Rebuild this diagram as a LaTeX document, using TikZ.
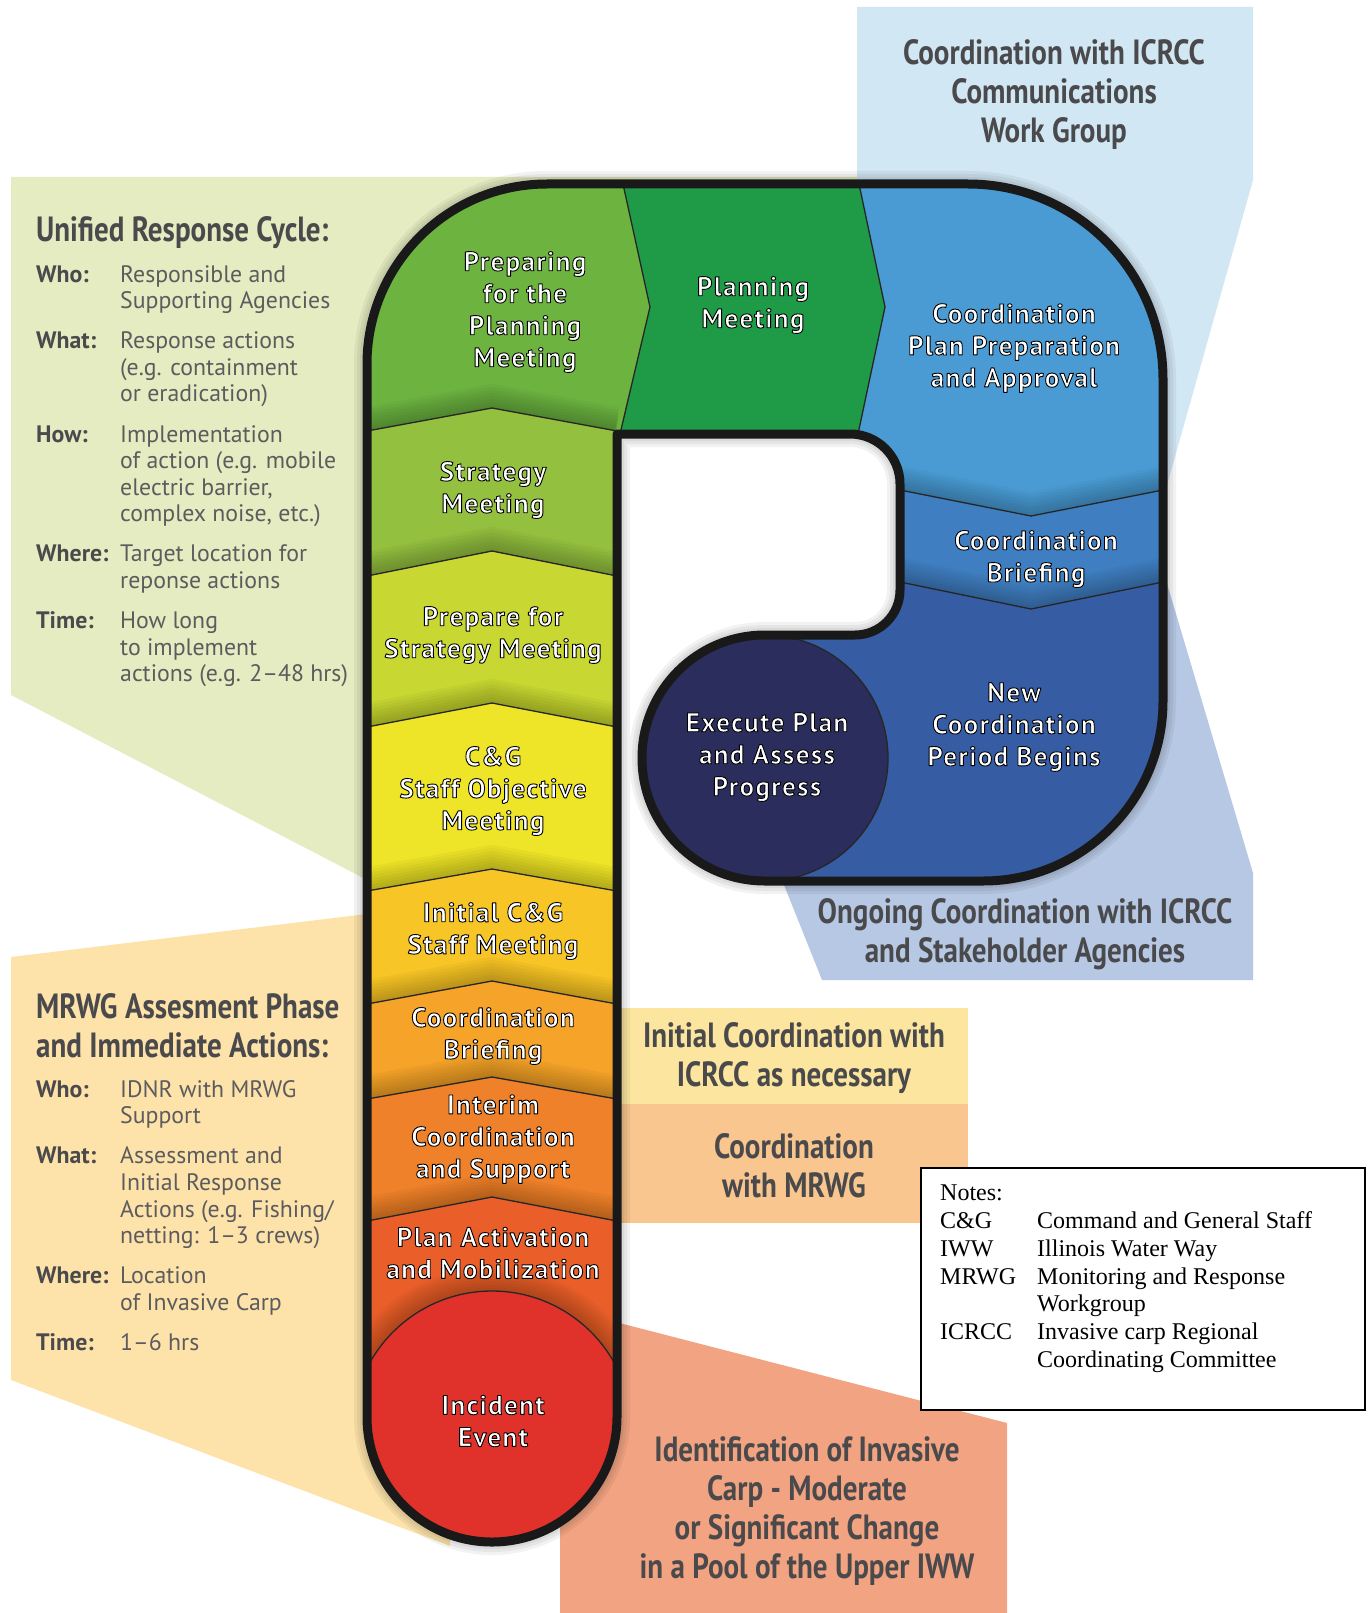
\documentclass[tikz,border=0pt]{standalone}
\usepackage{fontspec}
\setmainfont{Liberation Serif}
\newfontfamily\lblfont[LetterSpace=5]{PT Sans}
\newfontfamily\headfont[FakeStretch=0.83]{PT Sans}
\newfontfamily\bodyfont{PT Sans}
\definecolor{bgGreen}{HTML}{E5ECC1}
\definecolor{bgBlue}{HTML}{D2E7F4}
\definecolor{bgPeri}{HTML}{B6C8E4}
\definecolor{bgCream}{HTML}{FDE3AA}
\definecolor{bgYel}{HTML}{FCE69F}
\definecolor{bgOra}{HTML}{F8C68E}
\definecolor{bgSal}{HTML}{F1A382}
\definecolor{cPrep}{HTML}{6CB33F}
\definecolor{cPlan}{HTML}{1F9B48}
\definecolor{cCPP}{HTML}{4A9BD3}
\definecolor{cCBb}{HTML}{3F7EC1}
\definecolor{cNew}{HTML}{365CA4}
\definecolor{cExe}{HTML}{2B2E5C}
\definecolor{cStr}{HTML}{93C03E}
\definecolor{cPfs}{HTML}{C8D731}
\definecolor{cCG}{HTML}{EEE428}
\definecolor{cIni}{HTML}{F8C526}
\definecolor{cCBo}{HTML}{F5A329}
\definecolor{cInt}{HTML}{EF812A}
\definecolor{cAct}{HTML}{EA5E2A}
\definecolor{cInc}{HTML}{E0322B}
\definecolor{hd}{HTML}{4A4A4C}
\definecolor{bd}{HTML}{5C5C5E}
\newcommand\olon{\special{pdf:literal direct 0 G 1 j 0.9 w 2 Tr}}
\newcommand\lab[1]{\makebox[84pt][l]{\color{hd}\bfseries #1}}
\newcommand\ind{\hspace*{84pt}}
\newcommand\abbr[1]{\makebox[97pt][l]{#1}}
\newcommand\shadowline[1]{%
  \foreach \o/\w in {1.5/3,3/6,4.5/9,6/12,7.5/15,9/18,10.5/21,12/24}{\draw[black, opacity=0.032, line width=\w pt] [shift={(0,-\o)}] #1;}}
\tikzset{
  lbl/.style={font=\lblfont\bfseries\fontsize{27}{32}\selectfont, text=white, align=center, inner sep=0pt},
  head/.style={font=\headfont\bfseries\fontsize{35}{39}\selectfont, text=hd, align=center, inner sep=0pt},
  body/.style={font=\bodyfont\fontsize{23.8}{26.6}\selectfont, text=bd, align=left, inner sep=0pt},
  seg/.style={line width=1.3pt, draw=black!85},
  outline/.style={line width=9pt, draw=black!90, line join=round},
}
\begin{document}
\begin{tikzpicture}[x=1pt,y=-1pt]
\useasboundingbox (0,0) rectangle (1369,1613);
\fill[white] (0,0) rectangle (1369,1613);
% background panels
\fill[bgGreen] (11,177) -- (857,177) -- (857,300) -- (450,300) -- (450,923) -- (11,695) -- cycle;
\fill[bgBlue] (857,7) -- (1253,7) -- (1253,180) -- (1160,510) -- (1100,510) -- (1100,300) -- (857,300) -- cycle;
\fill[bgPeri] (1160,560) -- (1253,873) -- (1253,980) -- (822,980) -- (782,880) -- (782,660) -- (1100,660) -- (1100,560) -- cycle;
\fill[bgCream] (11,957) -- (367,914) -- (450,904) -- (450,1546) -- (11,1380) -- cycle;
\fill[bgYel] (600,1008) rectangle (968,1104);
\fill[bgOra] (600,1104) rectangle (968,1223);
\fill[bgSal] (600,1318) -- (1007,1423) -- (1007,1613) -- (560,1613) -- (560,1318) -- cycle;
% soft drop shadow around the P
\foreach \w in {14,20,26}{\draw[black, opacity=0.05, line width=\w pt, line join=round] (367,364) arc[start angle=180,end angle=270,radius=180] -- (968,184) arc[start angle=270,end angle=360,radius=195] -- (1163,701) arc[start angle=0,end angle=90,radius=180] -- (765,881) arc[start angle=90,end angle=270,radius=123] -- (855,635) arc[start angle=90,end angle=0,radius=45] -- (900,484) arc[start angle=360,end angle=270,radius=50] -- (617,434) -- (617,1417) arc[start angle=0,end angle=180,radius=125] -- cycle;}
% P shape fills
\begin{scope}
\clip (367,364) arc[start angle=180,end angle=270,radius=180] -- (968,184) arc[start angle=270,end angle=360,radius=195] -- (1163,701) arc[start angle=0,end angle=90,radius=180] -- (765,881) arc[start angle=90,end angle=270,radius=123] -- (855,635) arc[start angle=90,end angle=0,radius=45] -- (900,484) arc[start angle=360,end angle=270,radius=50] -- (617,434) -- (617,1417) arc[start angle=0,end angle=180,radius=125] -- cycle;
\fill[cPrep] (340,100) -- (623,100) -- (623,184) -- (650,307) -- (620,434) -- (617,431) -- (492,408) -- (367,431) -- (340,431) -- cycle;
\fill[cPlan] (623,100) -- (859,100) -- (859,184) -- (885,307) -- (858,434) -- (858,445) -- (620,445) -- (620,434) -- (650,307) -- (623,184) -- cycle;
\fill[cCPP] (859,100) -- (1260,100) -- (1260,490) -- (1163,490) -- (1031,516) -- (900,490) -- (858,490) -- (858,434) -- (885,307) -- (859,184) -- cycle;
\fill[cCBb] (890,490) -- (900,490) -- (1031,516) -- (1163,490) -- (1260,490) -- (1260,582) -- (1163,582) -- (1031,609) -- (900,582) -- (890,582) -- cycle;
\fill[cNew] (640,582) -- (900,582) -- (1031,609) -- (1163,582) -- (1260,582) -- (1260,900) -- (640,900) -- cycle;
\fill[cStr] (340,431) -- (367,431) -- (492,408) -- (617,431) -- (640,431) -- (640,576) -- (617,576) -- (492,551) -- (367,576) -- (340,576) -- cycle;
\fill[cPfs] (340,576) -- (367,576) -- (492,551) -- (617,576) -- (640,576) -- (640,727) -- (617,727) -- (492,703) -- (367,727) -- (340,727) -- cycle;
\fill[cCG] (340,727) -- (367,727) -- (492,703) -- (617,727) -- (640,727) -- (640,891) -- (617,891) -- (492,869) -- (367,891) -- (340,891) -- cycle;
\fill[cIni] (340,891) -- (367,891) -- (492,869) -- (617,891) -- (640,891) -- (640,1004) -- (617,1004) -- (492,981) -- (367,1004) -- (340,1004) -- cycle;
\fill[cCBo] (340,1004) -- (367,1004) -- (492,981) -- (617,1004) -- (640,1004) -- (640,1099) -- (617,1099) -- (492,1077) -- (367,1099) -- (340,1099) -- cycle;
\fill[cInt] (340,1099) -- (367,1099) -- (492,1077) -- (617,1099) -- (640,1099) -- (640,1221) -- (617,1221) -- (492,1197) -- (367,1221) -- (340,1221) -- cycle;
\fill[cAct] (340,1221) -- (367,1221) -- (492,1197) -- (617,1221) -- (640,1221) -- (640,1600) -- (340,1600) -- cycle;
% soft shadows above each boundary
\shadowline{(367,431) -- (492,408) -- (617,431)}
\shadowline{(367,576) -- (492,551) -- (617,576)}
\shadowline{(367,727) -- (492,703) -- (617,727)}
\shadowline{(367,891) -- (492,869) -- (617,891)}
\shadowline{(367,1004) -- (492,981) -- (617,1004)}
\shadowline{(367,1099) -- (492,1077) -- (617,1099)}
\shadowline{(367,1221) -- (492,1197) -- (617,1221)}
\shadowline{(900,490) -- (1031,516) -- (1163,490)}
\shadowline{(900,582) -- (1031,609) -- (1163,582)}
\foreach \o/\w in {1.5/3,3/6,4.5/9,6/12,7.5/15,9/18,10.5/21,12/24}{\draw[black, opacity=0.032, line width=\w pt] (492,1431) circle[radius=140+\o];}
\fill[cExe] (765,758) circle[radius=123];
\fill[cInc] (492,1431) circle[radius=140];
% thin segment boundaries
\draw[seg] (623,184) -- (650,307) -- (620,434);
\draw[seg] (859,184) -- (885,307) -- (858,434);
\draw[seg] (900,490) -- (1031,516) -- (1163,490);
\draw[seg] (900,582) -- (1031,609) -- (1163,582);
\draw[seg] (765,758) circle[radius=123];
\draw[seg] (367,431) -- (492,408) -- (617,431);
\draw[seg] (367,576) -- (492,551) -- (617,576);
\draw[seg] (367,727) -- (492,703) -- (617,727);
\draw[seg] (367,891) -- (492,869) -- (617,891);
\draw[seg] (367,1004) -- (492,981) -- (617,1004);
\draw[seg] (367,1099) -- (492,1077) -- (617,1099);
\draw[seg] (367,1221) -- (492,1197) -- (617,1221);
\draw[seg] (492,1431) circle[radius=140];
\end{scope}
\draw[outline] (367,364) arc[start angle=180,end angle=270,radius=180] -- (968,184) arc[start angle=270,end angle=360,radius=195] -- (1163,701) arc[start angle=0,end angle=90,radius=180] -- (765,881) arc[start angle=90,end angle=270,radius=123] -- (855,635) arc[start angle=90,end angle=0,radius=45] -- (900,484) arc[start angle=360,end angle=270,radius=50] -- (617,434) -- (617,1417) arc[start angle=0,end angle=180,radius=125] -- cycle;
% labels inside the P
\node[lbl] (prep) at (525,312) {\olon Preparing\\for the\\Planning\\Meeting};
\node[lbl] (plan) at (753,305) {\olon Planning\\Meeting};
\node[lbl] (cpp) at (1014,348) {\olon Coordination\\Plan Preparation\\and Approval};
\node[lbl] (strat) at (493,490) {\olon Strategy\\Meeting};
\node[lbl] (pfs) at (493,635) {\olon Prepare for\\Strategy Meeting};
\node[lbl] (cgso) at (493,791) {\olon C\&G\\Staff Objective\\Meeting};
\node[lbl] (icg) at (493,931) {\olon Initial C\&G\\Staff Meeting};
\node[lbl] (cbo) at (493,1036) {\olon Coordination\\Briefing};
\node[lbl] (interim) at (493,1139) {\olon Interim\\Coordination\\and Support};
\node[lbl] (pam) at (493,1253) {\olon Plan Activation\\and Mobilization};
\node[lbl] (inc) at (493,1421) {\olon Incident\\Event};
\node[lbl] (cbb) at (1036,559) {\olon Coordination\\Briefing};
\node[lbl] (exe) at (767,757) {\olon Execute Plan\\and Assess\\Progress};
\node[lbl] (ncp) at (1014,727) {\olon New\\Coordination\\Period Begins};
% headings
\node[head] (cwg) at (1054,95) {Coordination with ICRCC\\Communications\\Work Group};
\node[head] (ongo) at (1025,934) {Ongoing Coordination with ICRCC\\and Stakeholder Agencies};
\node[head] (initc) at (794,1058) {Initial Coordination with\\ICRCC as necessary};
\node[head] (cmrwg) at (794,1166) {Coordination\\with MRWG};
\node[head] (ident) at (807,1511) {Identification of Invasive\\Carp - Moderate\\or Significant Change\\in a Pool of the Upper IWW};
% left panels
\node[head, anchor=west] (urc) at (36,233) {Unified Response Cycle:};
\node[body, anchor=north west] (urcbody) at (36,265) {%
\lab{Who:}Responsible and\\ \ind Supporting Agencies\\[13.5pt]
\lab{What:}Response actions\\ \ind (e.g. containment\\ \ind or eradication)\\[13.5pt]
\lab{How:}Implementation\\ \ind of action (e.g. mobile\\ \ind electric barrier,\\ \ind complex noise, etc.)\\[13.5pt]
\lab{Where:}Target location for\\ \ind reponse actions\\[13.5pt]
\lab{Time:}How long\\ \ind to implement\\ \ind actions (e.g. 2–48 hrs)};
\node[head, anchor=north west, align=left] (mrwg) at (36,993) {MRWG Assesment Phase\\and Immediate Actions:};
\node[body, anchor=north west] (mrwgbody) at (36,1080) {%
\lab{Who:}IDNR with MRWG\\ \ind Support\\[13.5pt]
\lab{What:}Assessment and\\ \ind Initial Response\\ \ind Actions (e.g. Fishing/\\ \ind netting: 1–3 crews)\\[13.5pt]
\lab{Where:}Location\\ \ind of Invasive Carp\\[13.5pt]
\lab{Time:}1–6 hrs};
% notes box
\draw[line width=1.2pt, fill=white] (921,1168) rectangle (1365,1410);
\node[anchor=north west, align=left, inner sep=0pt, font=\fontsize{24}{27.7}\selectfont] (notes) at (940,1185) {%
Notes:\\
\abbr{C\&G}Command and General Staff\\
\abbr{IWW}Illinois Water Way\\
\abbr{MRWG}Monitoring and Response\\
\abbr{}Workgroup\\
\abbr{ICRCC}Invasive carp Regional\\
\abbr{}Coordinating Committee};
\end{tikzpicture}
\end{document}
